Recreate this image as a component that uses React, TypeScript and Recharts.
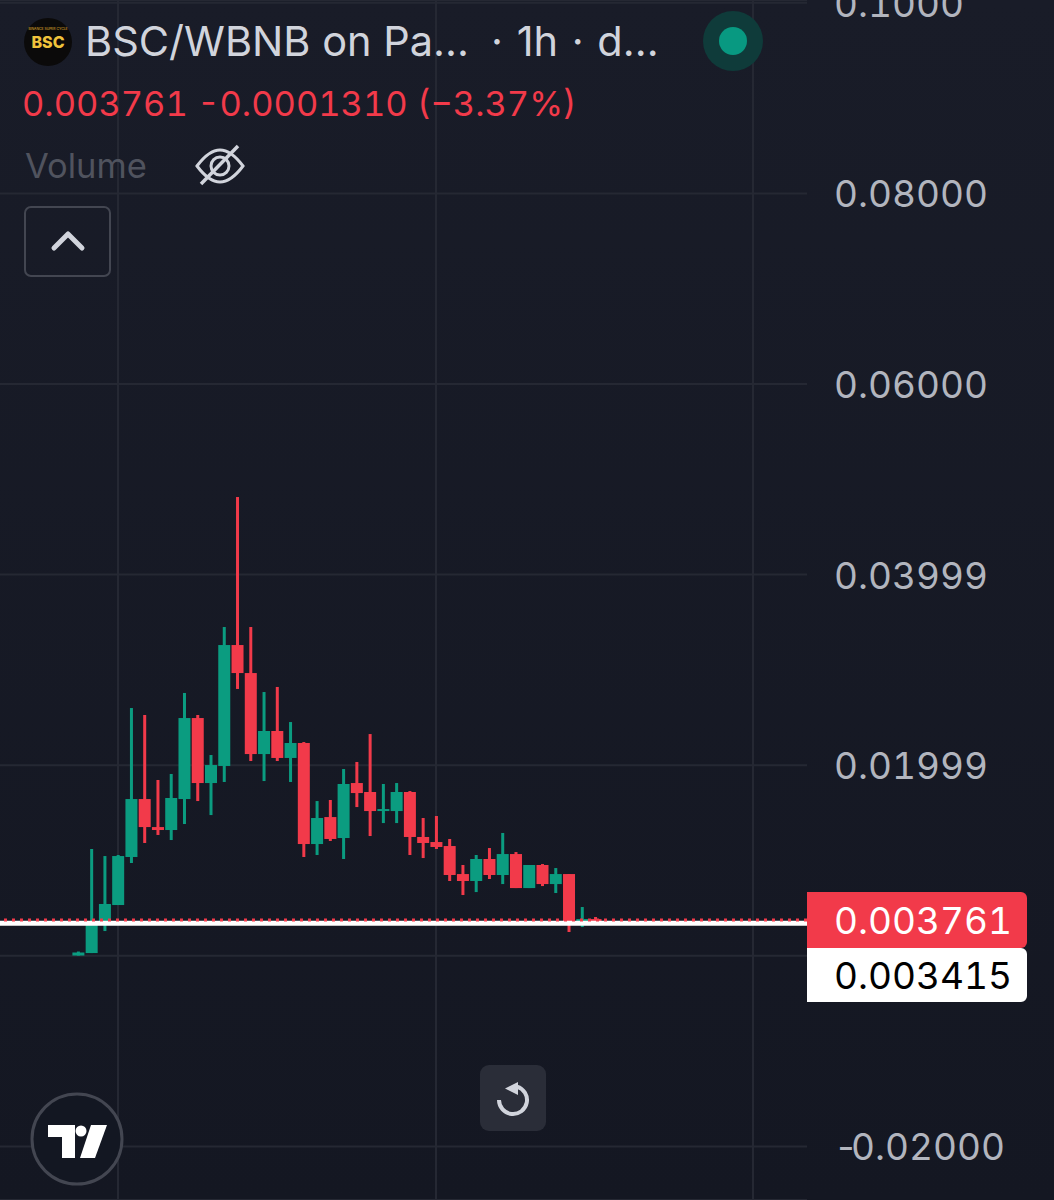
import React from 'react';
import { BarChart, Bar, XAxis, YAxis, CartesianGrid, ReferenceLine } from 'recharts';

const opens = [
  0.00003, 0.00029, 0.00344, 0.00533, 0.01037, 0.01645, 0.01351, 0.0132, 0.01645, 0.02495,
  0.01813, 0.01992, 0.03261, 0.02967, 0.02117, 0.02359, 0.02076, 0.02233, 0.01173, 0.01456,
  0.01236, 0.01813, 0.01719, 0.01519, 0.01519, 0.01719, 0.01247, 0.01194, 0.01152, 0.00858,
  0.00785, 0.01016, 0.00848, 0.01068, 0.00711, 0.00953, 0.00753, 0.00858, 0.00376, 0.00386,
];
const closes = [
  0.00035, 0.00334, 0.00544, 0.01047, 0.01645, 0.01351, 0.0132, 0.01656, 0.02495, 0.01813,
  0.02002, 0.03261, 0.02967, 0.02117, 0.02359, 0.02076, 0.02233, 0.01173, 0.01446, 0.01226,
  0.01803, 0.01708, 0.01519, 0.0154, 0.01719, 0.01247, 0.01184, 0.01142, 0.00848, 0.00785,
  0.01016, 0.00848, 0.01068, 0.00711, 0.00953, 0.00753, 0.00858, 0.00365, 0.00386, 0.00376,
];
const highs = [
  0.00045, 0.01121, 0.01047, 0.01058, 0.026, 0.02527, 0.01845, 0.01908, 0.02758, 0.02527,
  0.02107, 0.0345, 0.04814, 0.0345, 0.02768, 0.02821, 0.02453, 0.02243, 0.01624, 0.01635,
  0.0196, 0.02034, 0.02327, 0.01803, 0.01813, 0.01729, 0.01446, 0.01467, 0.01226, 0.00953,
  0.01058, 0.01131, 0.01289, 0.01089, 0.00953, 0.00963, 0.00921, 0.00858, 0.00512, 0.00407,
];
const lows = [
  0.00003, 0.00029, 0.0026, 0.00533, 0.00974, 0.01184, 0.01268, 0.01215, 0.01383, 0.01624,
  0.01477, 0.01824, 0.028, 0.02044, 0.01834, 0.02044, 0.01824, 0.01037, 0.01058, 0.01205,
  0.01016, 0.01561, 0.01257, 0.01393, 0.01393, 0.01058, 0.01026, 0.01121, 0.00785, 0.00638,
  0.00669, 0.00806, 0.00753, 0.00711, 0.00711, 0.00732, 0.00659, 0.0025, 0.00302, 0.00344,
];

const priceTicks = [0.1, 0.08, 0.06, 0.04, 0.02, 0, -0.02];
const priceLabels = ['0.1000', '0.08000', '0.06000', '0.03999', '0.01999', '', '-0.02000'];

const lastPrice = 0.003761;
const lastPriceLabel = '0.003761';
const markPrice = 0.003415;
const markPriceLabel = '0.003415';

const UP = '#0b9c80';
const DOWN = '#f23a4a';
const GRID = '#252833';
const FONT = 'Inter, "Noto Sans", sans-serif';

const candles = opens.map((open, i) => ({
  id: i,
  open,
  close: closes[i],
  high: highs[i],
  low: lows[i],
  range: [lows[i], highs[i]],
}));

// Bar gives the high-low span in pixels, the body is scaled from that
const Candle = (props: any) => {
  const { x, y, width, height, payload } = props;
  const { open, close, high, low } = payload;
  const pxPerUnit = height / (high - low);
  const bodyTop = y + (high - Math.max(open, close)) * pxPerUnit;
  const bodyHeight = Math.max(Math.abs(open - close) * pxPerUnit, 2);
  const color = close >= open ? UP : DOWN;
  return (
    <g>
      <rect x={x + width / 2 - 1.5} y={y} width={3} height={height} fill={color} />
      <rect x={x} y={bodyTop} width={width} height={bodyHeight} fill={color} />
    </g>
  );
};

const PriceTick = (props: any) => {
  const { y, payload } = props;
  const label = priceLabels[priceTicks.indexOf(payload.value)];
  if (!label) return null;
  const negative = label.startsWith('-');
  return (
    <text
      x={834}
      y={y}
      dy={14}
      fill="#b2b5be"
      fontSize={37}
      fontFamily={FONT}
      style={{ fontVariantNumeric: 'tabular-nums' }}
    >
      {negative && <tspan letterSpacing={-7}>-</tspan>}
      {negative ? label.slice(1) : label}
    </text>
  );
};

const priceTag = (text: string, fill: string, color: string, top: number, height: number) => (props: any) => {
  const { viewBox } = props;
  const x = viewBox.x + viewBox.width;
  const y = viewBox.y + top;
  return (
    <g>
      <path
        d={`M${x} ${y}h214a6 6 0 0 1 6 6v${height - 12}a6 6 0 0 1 -6 6h-214z`}
        fill={fill}
      />
      <text
        x={x + 27}
        y={y + height / 2 + 14}
        fill={color}
        fontSize={37}
        fontFamily={FONT}
        style={{ fontVariantNumeric: 'tabular-nums' }}
      >
        {text}
      </text>
    </g>
  );
};

const Header = () => (
  <div style={{ position: 'absolute', left: 0, top: 0, width: 1054, height: 1200, fontFamily: FONT, pointerEvents: 'none' }}>
    <svg width={52} height={52} style={{ position: 'absolute', left: 22, top: 16 }}>
      <circle cx={26} cy={26} r={24} fill="#0b0a0a" />
      <text x={26} y={13.5} textAnchor="middle" fontSize={3.4} fill="#e8b92f" fontFamily={FONT}>BINANCE SUPER CYCLE</text>
      <text x={26} y={32} textAnchor="middle" fontSize={16} fontWeight={800} fill="#f0c33c" fontFamily={FONT}>BSC</text>
    </svg>
    <div style={{ position: 'absolute', left: 85, top: 17, fontSize: 41.5, color: '#d1d4dc', whiteSpace: 'pre', lineHeight: '48px' }}>
      BSC/WBNB on Pa...
    </div>
    <div style={{ position: 'absolute', left: 491, top: 17, fontSize: 41.5, color: '#d1d4dc', whiteSpace: 'pre', lineHeight: '48px', wordSpacing: 2 }}>
      · 1h · d...
    </div>
    <svg width={64} height={64} style={{ position: 'absolute', left: 701, top: 9 }}>
      <circle cx={32} cy={32} r={30} fill="#0f3b3a" />
      <circle cx={32} cy={32} r={14} fill="#089981" />
    </svg>
    <div style={{ position: 'absolute', left: 22, top: 84, fontSize: 34.5, color: DOWN, whiteSpace: 'pre', lineHeight: '40px', fontVariantNumeric: 'tabular-nums' }}>
      0.003761 -0.0001310 (−3.37%)
    </div>
    <div style={{ position: 'absolute', left: 25, top: 146, fontSize: 34.5, color: '#50535e', lineHeight: '40px' }}>
      Volume
    </div>
    <svg width={52} height={44} style={{ position: 'absolute', left: 194, top: 144 }} fill="none" stroke="#d1d4dc" strokeWidth={3}>
      <path d="M3 22C12 10 20 6 26 6s14 4 23 16c-9 12-17 16-23 16S12 34 3 22z" />
      <circle cx={26} cy={22} r={9} />
      <path d="M7 40L44 2" strokeWidth={3.5} />
    </svg>
    <svg width={88} height={71} style={{ position: 'absolute', left: 24, top: 206 }} fill="none">
      <rect x={1} y={1} width={85} height={69} rx={6} stroke="#434651" strokeWidth={2} />
      <path d="M30 42L44 28L58 42" stroke="#d1d4dc" strokeWidth={5} strokeLinecap="round" strokeLinejoin="round" />
    </svg>
    <svg width={66} height={66} style={{ position: 'absolute', left: 480, top: 1065 }} fill="none">
      <rect width={66} height={66} rx={9} fill="#2a2d38" />
      <path d="M19 35A14 14 0 1 0 37 21.6" stroke="#d1d4dc" strokeWidth={4} />
      <path d="M38 17v13l-13-6.5z" fill="#d1d4dc" />
    </svg>
    <svg width={96} height={96} style={{ position: 'absolute', left: 29, top: 1091 }}>
      <circle cx={48} cy={48} r={45} fill="#131722" stroke="#434651" strokeWidth={3} />
      <path d="M19 34h27v33H33V46H19z" fill="#fff" />
      <circle cx={52} cy={40} r={5.5} fill="#fff" />
      <path d="M62 34h16L66 67H51z" fill="#fff" />
    </svg>
  </div>
);

export default function App() {
  return (
    <div
      style={{
        position: 'absolute',
        left: 0,
        top: 0,
        width: 1054,
        height: 1200,
        overflow: 'hidden',
        background: 'linear-gradient(#191c28, #141722)',
      }}
    >
      <BarChart
        width={1054}
        height={1200}
        data={candles}
        margin={{ top: 0, right: 0, bottom: 0, left: 0 }}
        barCategoryGap={0}
      >
        <CartesianGrid stroke={GRID} strokeWidth={2} verticalPoints={[118, 436, 753]} />
        <XAxis dataKey="id" hide padding={{ left: 71.4, right: 205.2 }} />
        <YAxis
          orientation="right"
          width={247}
          domain={[-0.02562, 0.10029]}
          allowDataOverflow
          ticks={priceTicks}
          interval={0}
          axisLine={false}
          tickLine={false}
          tick={<PriceTick />}
        />
        <Bar dataKey="range" barSize={12} shape={<Candle />} isAnimationActive={false} />
        <ReferenceLine
          y={markPrice}
          stroke="#ffffff"
          strokeWidth={5}
          label={priceTag(markPriceLabel, '#ffffff', '#000000', 24.7, 54)}
        />
        <ReferenceLine
          y={lastPrice}
          stroke={DOWN}
          strokeWidth={3}
          strokeDasharray="3 5"
          label={priceTag(lastPriceLabel, DOWN, '#ffffff', -28, 56)}
        />
      </BarChart>
      <Header />
    </div>
  );
}
